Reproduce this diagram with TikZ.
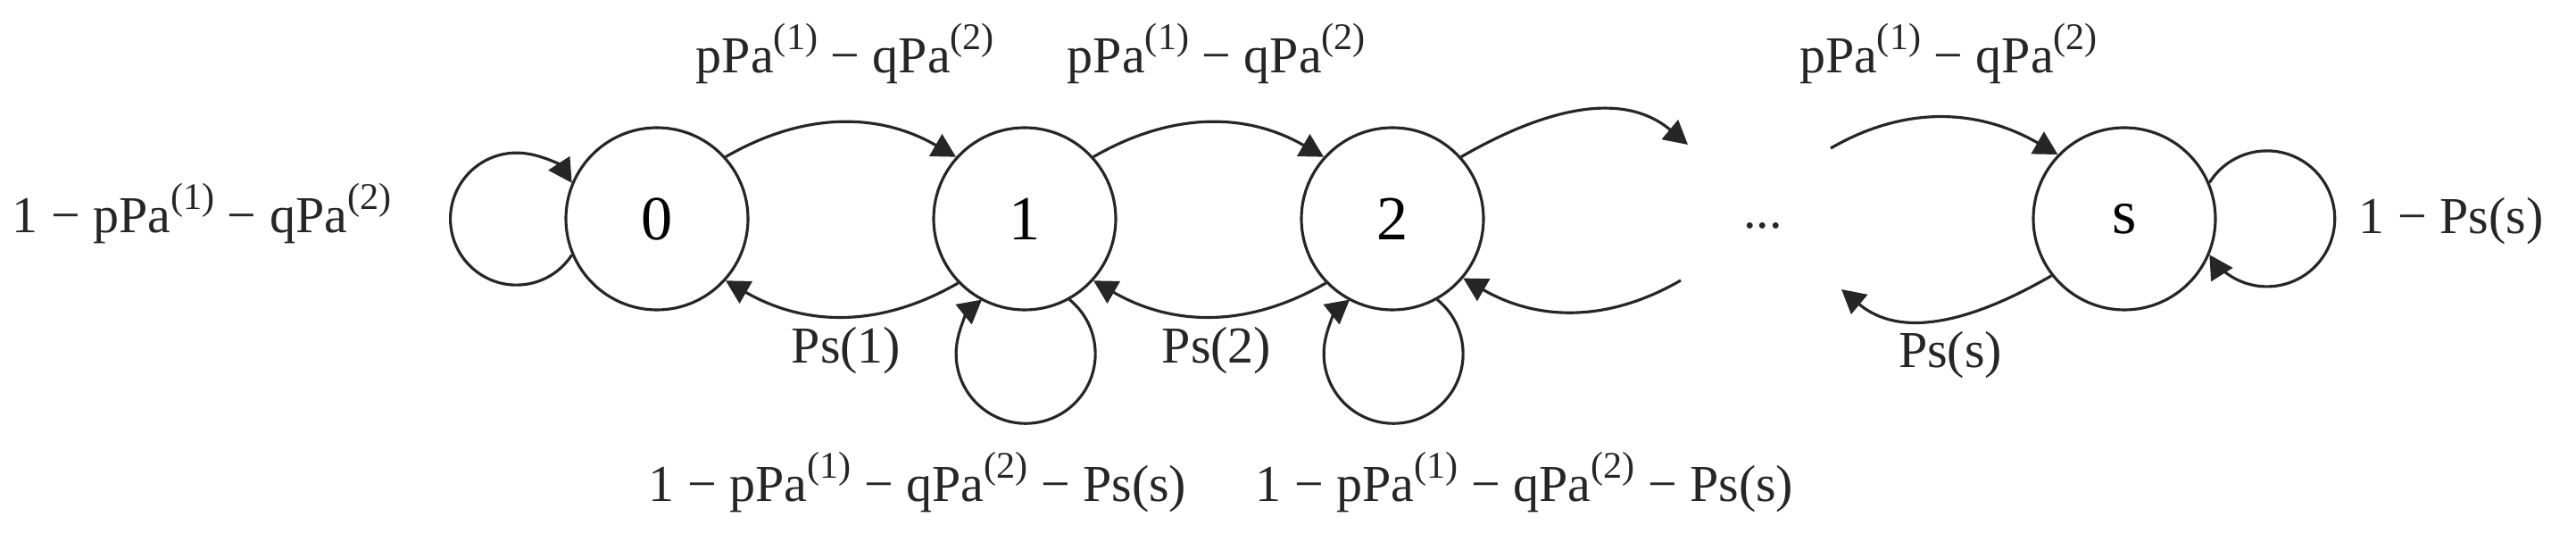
\documentclass[tikz,border=0pt]{standalone}
\usepackage{fontspec}
\setmainfont{Liberation Serif}
\usetikzlibrary{arrows.meta}
\newcommand\supx[1]{\raisebox{0.45em}{\fontsize{12}{12}\selectfont(#1)}}
\begin{document}
\begin{tikzpicture}[
  st/.style={circle, draw=black!85, line width=0.9pt, minimum size=2.04cm, inner sep=0pt, font=\fontsize{20}{24}\selectfont},
  arr/.style={draw=black!85, line width=0.9pt, -{Triangle[length=7.5pt,width=8pt]}},
  lbl/.style={font=\fontsize{16.5}{20}\selectfont, inner sep=0pt, text=black!85}
]
\useasboundingbox (0,0) rectangle (28.86,5.98);
\node[st] (n0) at (7.36,3.53) {0};
\node[st] (n1) at (11.48,3.53) {1};
\node[st] (n2) at (15.60,3.53) {2};
\node[st] (ns) at (23.80,3.53) {s};
\node[lbl] (dots) at (19.75,3.45) {...};
\coordinate (c1) at (18.91,4.36);
\coordinate (c2) at (20.51,4.32);
\coordinate (c3) at (18.83,2.84);
\coordinate (c4) at (20.63,2.74);
% forward
\draw[arr] (n0.42) to[out=30,in=150] (n1.138);
\draw[arr] (n1.42) to[out=30,in=150] (n2.138);
\draw[arr] (n2.42) to[out=30,in=140] (c1);
\draw[arr] (c2) to[out=30,in=150] (ns.136);
% backward
\draw[arr] (n1.224) to[out=210,in=-30] (n0.-42);
\draw[arr] (n2.224) to[out=210,in=-30] (n1.-42);
\draw[arr] (c3) to[out=210,in=-30] (n2.-40);
\draw[arr] (ns.218) to[out=210,in=-40] (c4);
% self loops
\draw[arr] (n0.-157) arc[start angle=-33, end angle=-327, radius=0.74];
\draw[arr] (n1.-61) arc[start angle=51, end angle=-231, radius=0.78];
\draw[arr] (n2.-61) arc[start angle=51, end angle=-231, radius=0.78];
\draw[arr] (ns.23.3) arc[start angle=147.9, end angle=-147.9, radius=0.76];
% labels
\node[lbl] (t1) at (9.47,5.38) {pPa\supx{1} − qPa\supx{2}};
\node[lbl] (t2) at (13.63,5.38) {pPa\supx{1} − qPa\supx{2}};
\node[lbl] (t3) at (21.83,5.38) {pPa\supx{1} − qPa\supx{2}};
\node[lbl] (lf) at (2.26,3.59) {1 − pPa\supx{1} − qPa\supx{2}};
\node[lbl] (p1) at (9.48,2.05) {Ps(1)};
\node[lbl] (p2) at (13.63,2.05) {Ps(2)};
\node[lbl] (ps) at (21.85,2.00) {Ps(s)};
\node[lbl] (rt) at (27.46,3.50) {1 − Ps(s)};
\node[lbl] (b1) at (10.28,0.58) {1 − pPa\supx{1} − qPa\supx{2} − Ps(s)};
\node[lbl] (b2) at (17.08,0.58) {1 − pPa\supx{1} − qPa\supx{2} − Ps(s)};
\end{tikzpicture}
\end{document}
